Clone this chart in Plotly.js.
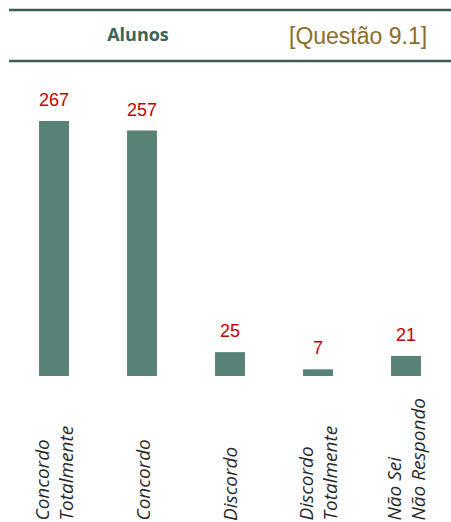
<!DOCTYPE html>
<html>
<head>
<meta charset="utf-8">
<script src="https://cdn.plot.ly/plotly-3.0.1.min.js"></script>
<style>html,body{margin:0;padding:0;background:#fff;}#chart{width:451px;height:522px;}</style>
</head>
<body>
<div id="chart"></div>
<script>
const categories = ["Concordo<br>Totalmente", "Concordo", "Discordo", "Discordo<br>Totalmente", "Não Sei<br>Não Respondo"];
const values = [267, 257, 25, 7, 21];
const chartTitle = "Alunos";
const questionLabel = "[Questão 9.1]";

const barColor = "#588277";
const labelColor = "#c00000";
const ruleColor = "#3b5e54";

const trace = {
  type: "bar",
  x: categories,
  y: values,
  marker: { color: barColor },
  width: 0.34,
  hoverinfo: "none"
};

const valueAnnotations = categories.map((c, i) => ({
  x: c, y: values[i], xref: "x", yref: "y",
  text: String(values[i]),
  showarrow: false, yanchor: "bottom", yshift: 9,
  font: { family: "Liberation Sans, Arial, sans-serif", size: 18, color: labelColor }
}));

const categoryAnnotations = categories.map((c) => ({
  x: c, y: -147 / 296, xref: "x", yref: "paper",
  text: c, textangle: -90, align: "left",
  showarrow: false, yanchor: "bottom", xanchor: "center",
  font: { family: "Open Sans, sans-serif", size: 19, style: "italic", color: "#262626" }
}));

const layout = {
  width: 451, height: 522,
  margin: { l: 10, r: 1, t: 80, b: 146 },
  paper_bgcolor: "#ffffff", plot_bgcolor: "#ffffff",
  showlegend: false,
  title: {
    text: "<b>" + chartTitle + "</b>",
    x: 138 / 451, xanchor: "center", xref: "container",
    y: 1 - 35 / 522, yanchor: "middle", yref: "container",
    font: { family: "Open Sans, sans-serif", size: 18, color: "#3d6358" }
  },
  xaxis: { type: "category", showticklabels: false, showline: false, zeroline: false, showgrid: false, ticks: "" },
  yaxis: { range: [0, 310], visible: false, showgrid: false, zeroline: false },
  annotations: [
    ...valueAnnotations,
    ...categoryAnnotations,
    {
      text: questionLabel, xref: "paper", yref: "paper",
      x: (357.5 - 10) / 440, y: (376 - 36) / 296, xanchor: "center", yanchor: "middle",
      showarrow: false,
      font: { family: "Liberation Sans, Arial, sans-serif", size: 23, color: "#8b6d2b" }
    }
  ],
  shapes: [
    { type: "line", xref: "paper", yref: "paper", x0: -1 / 440, x1: 441 / 440, y0: 366 / 296, y1: 366 / 296, line: { color: ruleColor, width: 2.5 } },
    { type: "line", xref: "paper", yref: "paper", x0: -1 / 440, x1: 441 / 440, y0: 315 / 296, y1: 315 / 296, line: { color: ruleColor, width: 2.5 } }
  ]
};

Plotly.newPlot("chart", [trace], layout, { displayModeBar: false, staticPlot: true });
</script>
</body>
</html>
